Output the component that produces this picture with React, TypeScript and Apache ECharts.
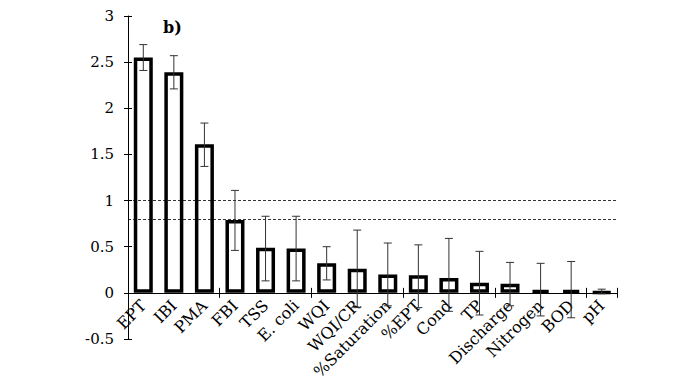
import React, { useEffect, useRef } from "react";
import * as echarts from "echarts";

const categories = ["EPT", "IBI", "PMA", "FBI", "TSS", "E. coli", "WQI", "WQI/CR", "%Saturation", "%EPT", "Cond", "TP", "Discharge", "Nitrogen", "BOD", "pH"];
const values = [2.55, 2.39, 1.61, 0.79, 0.49, 0.48, 0.32, 0.26, 0.2, 0.19, 0.16, 0.11, 0.1, 0.03, 0.03, 0.01];
const errHigh = [2.69, 2.57, 1.84, 1.11, 0.83, 0.83, 0.5, 0.68, 0.54, 0.52, 0.59, 0.45, 0.33, 0.32, 0.34, 0.04];
const errLow = [2.41, 2.21, 1.37, 0.46, 0.13, 0.13, 0.14, -0.16, -0.14, -0.16, -0.2, -0.24, -0.14, -0.25, -0.27, -0.01];
const refLines = [1, 0.8];
const panelLabel = "b)";

const FONT = "'DejaVu Serif', 'Liberation Serif', serif";
const Y_MIN = -0.5;
const Y_MAX = 3;

export default function App() {
  const ref = useRef<HTMLDivElement>(null);
  useEffect(() => {
    const chart = echarts.init(ref.current!, null, { renderer: "svg" });
    const errData = categories.map((_, i) => [i, errLow[i], errHigh[i]]);
    const top = 16;
    const bottom = 46;
    const plotH = 385 - top - bottom;
    const zeroFromBottom = bottom + (plotH * (0 - Y_MIN)) / (Y_MAX - Y_MIN);
    chart.setOption({
      animation: false,
      backgroundColor: "#fff",
      grid: [
        { left: 128, right: 79, top, bottom, outerBoundsMode: "none", containLabel: false },
        { left: 128, right: 79, top, bottom: zeroFromBottom, outerBoundsMode: "none", containLabel: false },
      ],
      graphic: [
        {
          type: "text",
          left: 163,
          top: 19,
          style: { text: panelLabel, font: `bold 16px ${FONT}`, fill: "#000" },
        },
      ],
      xAxis: [
        {
          type: "category",
          gridIndex: 0,
          data: categories,
          position: "bottom",
          axisLine: { onZero: true, onZeroAxisIndex: 0, lineStyle: { color: "#000", width: 1 } },
          axisTick: { show: true, length: 5, lineStyle: { color: "#000" } },
          axisLabel: { show: false },
          splitLine: { show: false },
        },
        {
          type: "category",
          gridIndex: 0,
          data: categories,
          position: "bottom",
          axisLine: { onZero: true, onZeroAxisIndex: 1, lineStyle: { color: "#000", width: 1 } },
          axisTick: { show: true, inside: true, length: 5, lineStyle: { color: "#000" } },
          axisLabel: { show: false },
          splitLine: { show: false },
        },
        {
          type: "category",
          gridIndex: 1,
          data: categories,
          position: "bottom",
          axisLine: { show: false, onZero: false },
          axisTick: { show: false },
          axisLabel: { rotate: 45, color: "#000", fontFamily: FONT, fontSize: 16, margin: 10, interval: 0, hideOverlap: false },
          splitLine: { show: false },
        },
      ],
      yAxis: [
        {
          type: "value",
          gridIndex: 0,
          min: Y_MIN,
          max: Y_MAX,
          interval: 0.5,
          axisLine: { show: true, onZero: false, lineStyle: { color: "#000" } },
          axisTick: { show: true, length: 4, lineStyle: { color: "#000" } },
          axisLabel: { color: "#000", fontFamily: FONT, fontSize: 15, margin: 14 },
          splitLine: { show: false },
        },
        {
          type: "value",
          gridIndex: 0,
          min: Y_MIN,
          max: Y_MAX,
          interval: 0.5,
          position: "left",
          axisLine: { show: false, onZero: false },
          axisTick: { show: true, inside: true, length: 4, lineStyle: { color: "#000" } },
          axisLabel: { show: false },
          splitLine: { show: false },
        },
        {
          type: "value",
          gridIndex: 1,
          min: 0,
          max: 1,
          show: false,
        },
      ],
      series: [
        {
          type: "bar",
          xAxisIndex: 0,
          yAxisIndex: 0,
          data: values,
          barWidth: 19,
          itemStyle: { color: "#fff", borderColor: "#000", borderWidth: 3.5 },
          markLine: {
            silent: true,
            symbol: "none",
            label: { show: false },
            lineStyle: { color: "#000", type: [3, 2], width: 0.8 },
            data: refLines.map((v) => ({ yAxis: v })),
          },
          z: 2,
        },
        {
          type: "custom",
          xAxisIndex: 0,
          yAxisIndex: 0,
          data: errData,
          z: 5,
          renderItem: (params: any, api: any) => {
            const x = api.value(0);
            const lo = api.coord([x, api.value(1)]);
            const hi = api.coord([x, api.value(2)]);
            const half = 4;
            const style = { stroke: "#333", lineWidth: 1 };
            return {
              type: "group",
              children: [
                { type: "line", shape: { x1: hi[0], y1: hi[1], x2: lo[0], y2: lo[1] }, style },
                { type: "line", shape: { x1: hi[0] - half, y1: hi[1], x2: hi[0] + half, y2: hi[1] }, style },
                { type: "line", shape: { x1: lo[0] - half, y1: lo[1], x2: lo[0] + half, y2: lo[1] }, style },
              ],
            };
          },
        },
      ],
    });
    return () => chart.dispose();
  }, []);
  return <div ref={ref} style={{ width: 696, height: 385, position: "absolute", left: 0, top: 0 }} />;
}
